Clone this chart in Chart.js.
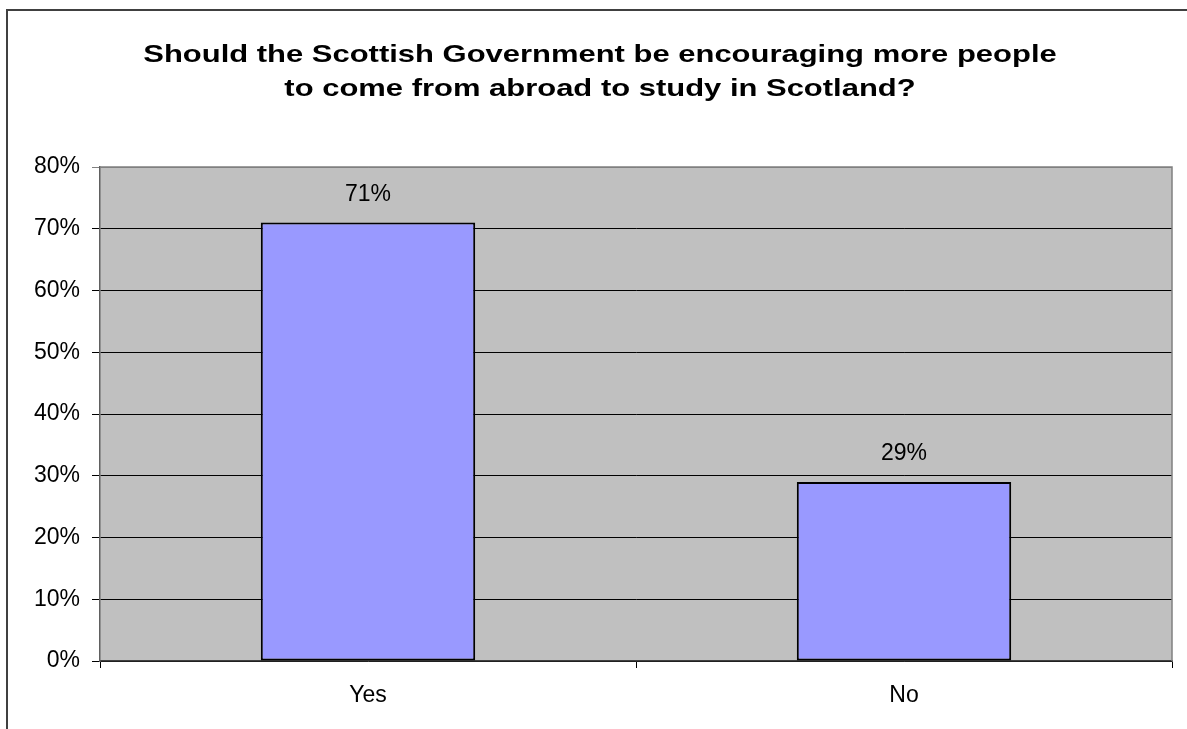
<!DOCTYPE html>
<html>
<head>
<meta charset="utf-8">
<script src="https://cdn.jsdelivr.net/npm/chart.js@4/dist/chart.umd.min.js"></script>
<style>
  html, body { margin: 0; padding: 0; background: #fff; }
  #wrap { width: 1187px; height: 729px; }
</style>
</head>
<body>
<div id="wrap"><canvas id="chart" width="1187" height="729"></canvas></div>
<script>
const titleLines = ['Should the Scottish Government be encouraging more people', 'to come from abroad to study in Scotland?'];
const categories = ['Yes', 'No'];
const values = [71, 29];
const yMax = 80;
const yStep = 10;

const FONT = 'Arial, "Liberation Sans", sans-serif';

// gray plot background, outer frame, title and value labels
const frame = {
  id: 'frame',
  beforeDraw(chart) {
    const { ctx, chartArea: a } = chart;
    ctx.save();
    ctx.fillStyle = '#fff';
    ctx.fillRect(0, 0, chart.width, chart.height);
    ctx.fillStyle = '#c0c0c0';
    ctx.fillRect(a.left, a.top, a.right - a.left, a.bottom - a.top);
    ctx.restore();
  },
  afterDatasetsDraw(chart) {
    const { ctx, chartArea: a } = chart;
    ctx.save();
    // plot border top / right
    ctx.strokeStyle = '#808080';
    ctx.lineWidth = 1.5;
    ctx.beginPath();
    ctx.moveTo(a.left, a.top);
    ctx.lineTo(a.right, a.top);
    ctx.lineTo(a.right, a.bottom);
    ctx.stroke();
    // value labels
    ctx.fillStyle = '#000';
    ctx.font = '23px ' + FONT;
    ctx.textAlign = 'center';
    ctx.textBaseline = 'middle';
    chart.getDatasetMeta(0).data.forEach((bar, i) => {
      ctx.fillText(values[i] + '%', bar.x, bar.y - 28);
    });
    ctx.restore();
  },
  afterDraw(chart) {
    const { ctx } = chart;
    ctx.save();
    ctx.strokeStyle = '#404040';
    ctx.lineWidth = 2;
    ctx.strokeRect(7, 10, chart.width + 20, chart.height + 20);
    // title is wider than tall in the source, so stretch it horizontally
    ctx.fillStyle = '#000';
    ctx.font = 'bold 24px ' + FONT;
    ctx.textAlign = 'center';
    ctx.textBaseline = 'middle';
    ctx.translate(600, 0);
    ctx.scale(1.29, 1);
    ctx.fillText(titleLines[0], 0, 55);
    ctx.fillText(titleLines[1], 0, 89);
    ctx.restore();
  }
};

new Chart(document.getElementById('chart'), {
  type: 'bar',
  data: {
    labels: categories,
    datasets: [{
      data: values,
      backgroundColor: '#9999ff',
      borderColor: '#000',
      borderWidth: 2,
      borderSkipped: false,
      barPercentage: 0.4,
      categoryPercentage: 1
    }]
  },
  options: {
    responsive: false,
    animation: false,
    layout: { padding: { top: 167, right: 15, bottom: 0, left: 0 } },
    plugins: {
      legend: { display: false },
      title: { display: false },
      tooltip: { enabled: false }
    },
    scales: {
      x: {
        afterFit: (s) => { s.height = 68; },
        grid: {
          offset: true,
          drawOnChartArea: false,
          color: '#000',
          tickLength: 7
        },
        border: { color: '#404040', width: 1.5 },
        ticks: { color: '#000', font: { family: FONT, size: 23 }, padding: 14 }
      },
      y: {
        min: 0,
        max: yMax,
        afterFit: (s) => { s.width = 100; },
        grid: {
          color: (c) => (c.tick && c.tick.value === yMax ? '#808080' : '#000'),
          lineWidth: 1,
          tickLength: 8
        },
        border: { color: '#606060', width: 1.5 },
        ticks: {
          stepSize: yStep,
          color: '#000',
          padding: 12,
          font: { family: FONT, size: 23 },
          callback: (v) => v + '%'
        }
      }
    }
  },
  plugins: [frame]
});
</script>
</body>
</html>
